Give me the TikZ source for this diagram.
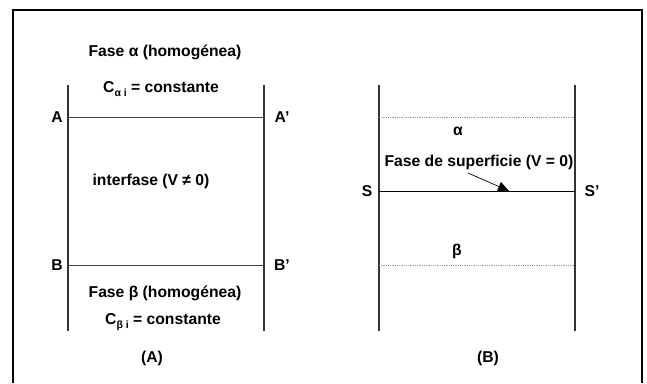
\documentclass[tikz,border=0pt]{standalone}
\usepackage{fontspec}
\setmainfont{Liberation Sans}
\usetikzlibrary{arrows.meta}
\tikzset{
  lbl/.style={font=\bfseries\fontsize{15.7}{18}\selectfont, inner sep=0pt},
  wall/.style={line width=1.3pt, draw=black!80},
  iface/.style={line width=0.9pt, draw=black!75},
  dotl/.style={line width=0.8pt, draw=black!40, densely dotted},
  frame/.style={line width=2pt, draw=black}
}
\newcommand{\subsc}[1]{\raisebox{-3.5pt}{\fontsize{10.5}{10.5}\selectfont #1}}
\begin{document}
\begin{tikzpicture}[x=1pt,y=-1pt]
\useasboundingbox (0,0) rectangle (647,383);
% frame (open at bottom)
\draw[frame] (13,383) -- (13,9.5) -- (642,9.5) -- (642,383);
% ---- panel A ----
\coordinate (LAt) at (68,85); \coordinate (LAb) at (68,331);
\coordinate (RAt) at (264,85); \coordinate (RAb) at (264,331);
\coordinate (Al) at (68,117); \coordinate (Ar) at (264,117);
\coordinate (Bl) at (68,265); \coordinate (Br) at (264,265);
\draw[wall] (LAt) -- (LAb);
\draw[wall] (RAt) -- (RAb);
\draw[iface] (Al) -- (Ar);
\draw[iface] (Bl) -- (Br);
\node[lbl] (tA) at (57,117) {A};
\node[lbl] (tAp) at (282,117) {A’};
\node[lbl] (tB) at (57,265) {B};
\node[lbl] (tBp) at (282,265) {B’};
\node[lbl] (fa) at (165,52) {Fase α (homogénea)};
\node[lbl] (ca) at (161,89) {C\subsc{α i} = constante};
\node[lbl] (inter) at (151,181) {interfase (V ≠ 0)};
\node[lbl] (fb) at (165,293) {Fase β (homogénea)};
\node[lbl] (cb) at (163,322) {C\subsc{β i} = constante};
\node[lbl] (capA) at (152,358) {(A)};
% ---- panel B ----
\coordinate (LBt) at (379,85); \coordinate (LBb) at (379,331);
\coordinate (RBt) at (575,85); \coordinate (RBb) at (575,331);
\coordinate (dal) at (379,117.5); \coordinate (dar) at (575,117.5);
\coordinate (Sl) at (379,191); \coordinate (Sr) at (575,191);
\coordinate (dbl) at (379,265); \coordinate (dbr) at (575,265);
\draw[wall] (LBt) -- (LBb);
\draw[wall] (RBt) -- (RBb);
\draw[dotl] (dal) -- (dar);
\draw[dotl] (dbl) -- (dbr);
\draw[line width=0.9pt] (Sl) -- (Sr);
\node[lbl] (tS) at (367,191) {S};
\node[lbl] (tSp) at (592,191) {S’};
\node[lbl] (al) at (458,131) {α};
\node[lbl] (sup) at (479,162) {Fase de superficie (V = 0)};
\node[lbl] (be) at (457,251) {β};
\coordinate (arS) at (468,173);
\coordinate (arE) at (509,191);
\draw[line width=0.7pt, -{Triangle[length=11pt,width=10pt]}] (arS) -- (arE);
\node[lbl] (capB) at (488,358) {(B)};
\end{tikzpicture}
\end{document}
